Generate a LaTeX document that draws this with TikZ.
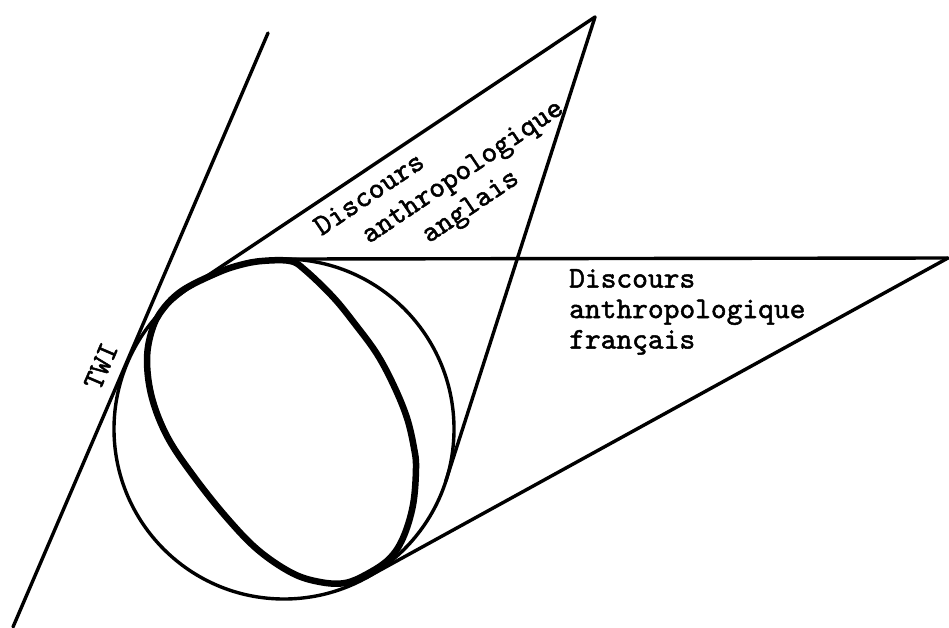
\documentclass[tikz,border=0pt]{standalone}
\usepackage{fontspec}
\newfontfamily\typer[FakeBold=1.6]{lmmono10-regular.otf}
\usepackage{tikz}
\usetikzlibrary{calc}

\begin{document}
\begin{tikzpicture}[x=1pt, y=-1pt,
  trait/.style={line width=3.4pt, line cap=round, line join=round},
  contour/.style={line width=6.5pt, line join=round},
  sphere/.style={circle, draw, line width=3.4pt, minimum size=340pt, inner sep=0pt, outer sep=0pt},
  legende/.style={font=\typer\fontsize{30}{30.5}\selectfont, inner sep=0pt, align=left}
]
  \useasboundingbox (0,0) rectangle (949,628);

  \node[sphere] (globe) at (284,429) {};
  \coordinate (apexA) at (595,17);
  \coordinate (apexF) at (948,258);
  \coordinate (twiTop) at (268,33);
  \coordinate (twiBot) at (13,627);

  \draw[trait] (twiTop) -- (twiBot);
  \foreach \s in {1,2} {
    \draw[trait] (apexA) -- (tangent cs:node=globe,point={(apexA)},solution=\s);
    \draw[trait] (apexF) -- (tangent cs:node=globe,point={(apexF)},solution=\s);
  }

  \draw[contour] plot[smooth cycle, tension=0.6] coordinates {
    (262,261) (290,261) (305,270) (333,297) (355,324) (377,354) (394,386)
    (407,418) (414,448) (416,468) (413,505) (403,538) (389,559) (367,574)
    (345,583) (320,582) (292,573) (258,550) (227,518) (195,478) (168,438)
    (152,398) (147,360) (152,330) (163,309) (183,290) (217,273) (240,265)};

  \node[legende, anchor=north west, rotate=34, font=\typer\fontsize{30}{33}\selectfont] (anglais) at (311,221)
    {Discours\\\hspace*{35pt}anthropologique\\\hspace*{85pt}anglais};
  \node[legende, anchor=north west] (francais) at (569,269)
    {Discours\\anthropologique\\français};
  \node[legende, rotate=66.7] (twi) at (101,366) {TWI};
\end{tikzpicture}
\end{document}
